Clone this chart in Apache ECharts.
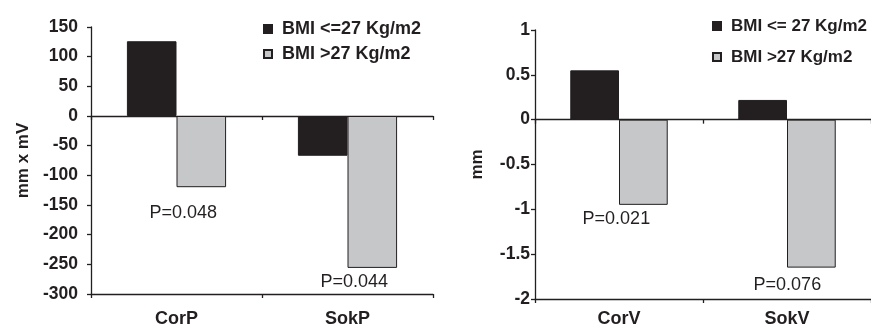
<!DOCTYPE html>
<html>
<head>
<meta charset="utf-8">
<script src="https://cdn.jsdelivr.net/npm/echarts@6/dist/echarts.min.js"></script>
<style>html,body{margin:0;padding:0;background:#fff}#c{width:871px;height:328px}</style>
</head>
<body>
<div id="c"></div>
<script>
// ---- data ----
var catsP = ['CorP', 'SokP'];
var catsV = ['CorV', 'SokV'];
var lowP = [126, -67];
var highP = [-120, -256];
var lowV = [0.55, 0.22];
var highV = [-0.95, -1.65];
var pLabelsP = ['P=0.048', 'P=0.044'];
var pLabelsV = ['P=0.021', 'P=0.076'];
var nameLowP = 'BMI <=27 Kg/m2';
var nameLowV = 'BMI <= 27 Kg/m2';
var nameHigh = 'BMI >27 Kg/m2';

// ---- styling / layout ----
var INK = '#231f20';
var GRAY = '#c6c7c9';
var FONT = 'Liberation Sans, Arial, sans-serif';
var offsP = [[-18, 12], [-18, 0]];
var offsV = [[-27, 0], [-24, 3]];

function lowData(vals) { return vals.slice(); }
function highData(vals, labels, offs) {
  return vals.map(function (v, i) {
    return { value: v, label: { show: true, formatter: labels[i], offset: offs[i] } };
  });
}

function yAxis(grid, min, max, interval, name, gap, margin) {
  return {
    type: 'value', gridIndex: grid, min: min, max: max, interval: interval,
    name: name, nameLocation: 'middle', nameGap: gap,
    nameTextStyle: { fontFamily: FONT, fontWeight: 'bold', fontSize: 17, color: INK },
    axisLine: { show: true, lineStyle: { color: INK, width: 1.3 } },
    axisTick: { show: true, length: 4, lineStyle: { color: INK, width: 1.3 } },
    axisLabel: { margin: margin, fontFamily: FONT, fontWeight: 'bold', fontSize: 17.5, color: INK },
    splitLine: { show: false }
  };
}
function xLabelAxis(grid, cats, margin) {
  return {
    type: 'category', gridIndex: grid, data: cats, position: 'bottom',
    axisLine: { onZero: false, lineStyle: { color: INK, width: 1.3 } },
    axisTick: { show: true, length: 4, lineStyle: { color: INK, width: 1.3 } },
    axisLabel: { margin: margin, fontFamily: FONT, fontWeight: 'bold', fontSize: 18, color: INK },
    splitLine: { show: false }
  };
}
function xZeroAxis(grid, cats, yIdx) {
  return {
    type: 'category', gridIndex: grid, data: cats, position: 'bottom',
    axisLine: { onZero: true, onZeroAxisIndex: yIdx, lineStyle: { color: INK, width: 1.3 } },
    axisTick: { show: true, length: 4, lineStyle: { color: INK, width: 1.3 } },
    axisLabel: { show: false },
    splitLine: { show: false }
  };
}
var barBase = {
  type: 'bar', barGap: '0%', barCategoryGap: '42%',
  label: { position: 'bottom', distance: 5, fontFamily: FONT, fontSize: 18, color: INK },
  emphasis: { disabled: true }
};
function bar(name, xi, yi, data, color) {
  return Object.assign({}, barBase, {
    name: name, xAxisIndex: xi, yAxisIndex: yi, data: data,
    itemStyle: { color: color, borderColor: INK, borderWidth: 1 }
  });
}
function legend(left, top, gap, names, size) {
  return {
    orient: 'vertical', left: left, top: top, itemGap: gap,
    itemWidth: 8, itemHeight: 8, icon: 'rect', data: names,
    textStyle: { fontFamily: FONT, fontWeight: 'bold', fontSize: size, color: INK, lineHeight: 20, padding: [0, 0, 0, 5] }
  };
}

var chart = echarts.init(document.getElementById('c'), null, { renderer: 'canvas' });
chart.setOption({
  animation: false,
  backgroundColor: '#fff',
  legend: [
    legend(258, 14, 5, [nameLowP, nameHigh], 18),
    legend(707, 11, 11, [nameLowV, nameHigh], 17)
  ],
  grid: [
    { left: 91, top: 27, width: 342, height: 269 },
    { left: 535, top: 30, width: 342, height: 273 }
  ],
  xAxis: [
    xLabelAxis(0, catsP, 16),
    xZeroAxis(0, catsP, 0),
    xLabelAxis(1, catsV, 11),
    xZeroAxis(1, catsV, 1)
  ],
  yAxis: [
    yAxis(0, -300, 150, 50, 'mm x mV', 59, 13),
    yAxis(1, -2, 1, 0.5, 'mm', 49, 5)
  ],
  series: [
    bar(nameLowP, 0, 0, lowData(lowP), INK),
    bar(nameHigh, 0, 0, highData(highP, pLabelsP, offsP), GRAY),
    bar(nameLowV, 2, 1, lowData(lowV), INK),
    bar(nameHigh, 2, 1, highData(highV, pLabelsV, offsV), GRAY)
  ]
});
</script>
</body>
</html>
